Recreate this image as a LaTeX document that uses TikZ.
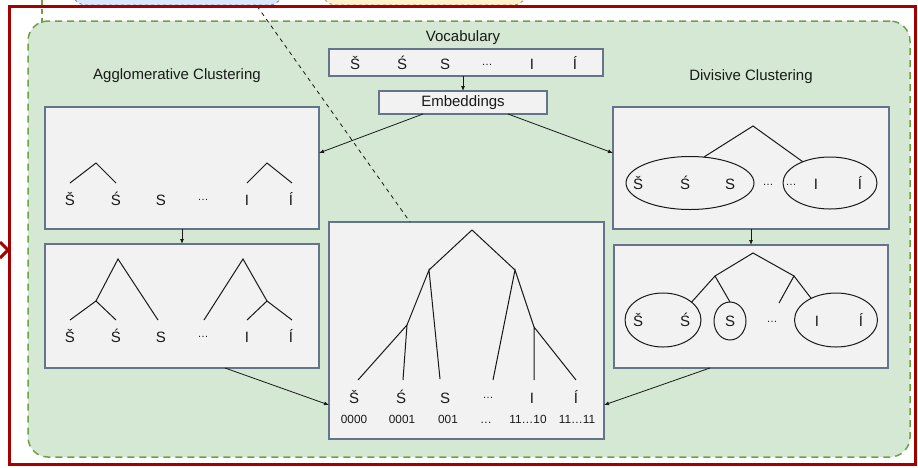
\documentclass[tikz,border=0pt]{standalone}
\usepackage{fontspec}
\setmainfont{Liberation Sans}
\usetikzlibrary{arrows.meta,shapes.geometric}

\definecolor{framered}{RGB}{165,0,0}
\definecolor{grpfill}{RGB}{213,232,212}
\definecolor{grpline}{RGB}{110,160,75}
\definecolor{boxfill}{RGB}{242,242,242}
\definecolor{boxline}{RGB}{100,116,138}
\definecolor{bluefill}{RGB}{218,232,252}
\definecolor{blueline}{RGB}{108,130,170}
\definecolor{yelfill}{RGB}{255,242,204}
\definecolor{yelline}{RGB}{150,140,110}
\definecolor{inkc}{RGB}{25,25,25}

% raised three dots used in the letter rows
\newcommand\middots{\raisebox{0.3em}{\fontsize{11}{11}\selectfont …}}

\begin{document}
\begin{tikzpicture}[x=1pt,y=-1pt,
  every node/.style={inner sep=0pt,outer sep=0pt,text=inkc},
  panel/.style={draw=boxline,fill=boxfill,line width=1.1pt,anchor=north west},
  lbl/.style={anchor=base,font=\fontsize{15}{18}\selectfont},
  code/.style={anchor=base,font=\fontsize{11.8}{14}\selectfont},
  title/.style={anchor=base,font=\fontsize{15}{18}\selectfont},
  branch/.style={draw=inkc,line width=1pt},
  group/.style={ellipse,draw=inkc,line width=1pt},
  arr/.style={draw=inkc,line width=0.8pt,-{Latex[length=5pt,width=4pt]}}]

\useasboundingbox (0,0) rectangle (918,467);

% shapes running off the top edge
\begin{scope}
  \clip (0,0) rectangle (918,467);
  \node[draw=blueline,fill=bluefill,dashed,rounded corners=14pt,line width=0.8pt,
        minimum width=211pt,minimum height=60pt] (upa) at (177.5,-25) {};
  \node[draw=yelline,fill=yelfill,dashed,rounded corners=14pt,line width=0.8pt,
        minimum width=205pt,minimum height=60pt] (upb) at (424.5,-25) {};
\end{scope}

% green container
\node[draw=grpline,fill=grpfill,dashed,dash pattern=on 7pt off 5pt,line width=1.5pt,
      rounded corners=20pt,minimum width=882pt,minimum height=436pt,anchor=north west]
      (grp) at (28,21) {};
\coordinate (gtop) at (42,0);
\coordinate (gend) at (42,25);
\draw[grpline,line width=1.5pt,dash pattern=on 5pt off 4pt] (gtop) -- (gend);

% titles
\node[title] (tvoc) at (463,41.7) {Vocabulary};
\node[title] (tagg) at (177,79.3) {Agglomerative Clustering};
\node[title] (tdiv) at (751,80) {Divisive Clustering};

% vocabulary and embeddings
\node[panel,minimum width=274pt,minimum height=27pt] (voc) at (329,49) {};
\foreach \x/\t/\n in {355/Š/v1,402/Ś/v2,445/S/v3,487/\middots/v4,532/I/v5,575/Í/v6}
  \node[lbl] (\n) at (\x,69.5) {\t};
\node[panel,minimum width=168pt,minimum height=23pt,font=\fontsize{15}{18}\selectfont]
      (emb) at (379,91) {Embeddings};

% panels
\node[panel,minimum width=274pt,minimum height=122pt] (ag1) at (45,107) {};
\node[panel,minimum width=274pt,minimum height=124pt] (ag2) at (45,244) {};
\node[panel,minimum width=276pt,minimum height=122pt] (dv1) at (613,107) {};
\node[panel,minimum width=274pt,minimum height=123pt] (dv2) at (614,245) {};
\node[panel,minimum width=275pt,minimum height=217pt] (ctr) at (329,222) {};

% agglomerative, step 1
\foreach \x/\t/\n in {70/Š/p1,116/Ś/p2,161/S/p3,203/\middots/p4,247/I/p5,291/Í/p6}
  \node[lbl] (\n) at (\x,205) {\t};
\coordinate (a1p) at (96,163);  \coordinate (a1a) at (70,183);  \coordinate (a1b) at (116,183);
\coordinate (a1q) at (267,163); \coordinate (a1c) at (247,183); \coordinate (a1d) at (292,183);
\draw[branch] (a1a) -- (a1p) -- (a1b);
\draw[branch] (a1c) -- (a1q) -- (a1d);

% agglomerative, step 2
\foreach \x/\t/\n in {70/Š/q1,116/Ś/q2,161/S/q3,203/\middots/q4,247/I/q5,291/Í/q6}
  \node[lbl] (\n) at (\x,342) {\t};
\coordinate (a2p) at (118,259); \coordinate (a2m) at (96,301);
\coordinate (a2q) at (243,259); \coordinate (a2n) at (267,301);
\coordinate (a2a) at (70,320);  \coordinate (a2b) at (116,320); \coordinate (a2c) at (158,320);
\coordinate (a2d) at (204,320); \coordinate (a2e) at (247,320); \coordinate (a2f) at (292,320);
\draw[branch] (a2m) -- (a2p) -- (a2c);
\draw[branch] (a2a) -- (a2m) -- (a2b);
\draw[branch] (a2d) -- (a2q) -- (a2n);
\draw[branch] (a2e) -- (a2n) -- (a2f);

% divisive, step 1
\node[group,minimum width=128pt,minimum height=53pt] (e11) at (690,183) {};
\node[group,minimum width=94pt,minimum height=52pt] (e12) at (830,183) {};
\foreach \x/\t/\n in {638/Š/r1,685/Ś/r2,730/S/r3,768/\middots/r4,791/\middots/r5,816/I/r6,860/Í/r7}
  \node[lbl] (\n) at (\x,189.5) {\t};
\coordinate (d1p) at (753,126);
\draw[branch] (e11.62) -- (d1p) -- (e12.142);

% divisive, step 2
\node[group,minimum width=76pt,minimum height=54pt] (e21) at (663,320) {};
\node[group,minimum width=32pt,minimum height=38pt] (e22) at (730,321) {};
\node[group,minimum width=83pt,minimum height=54pt] (e23) at (836,320) {};
\foreach \x/\t/\n in {638/Š/s1,685/Ś/s2,730/S/s3,772/\middots/s4,817/I/s5,861/Í/s6}
  \node[lbl] (\n) at (\x,326.5) {\t};
\coordinate (d2p) at (753,253); \coordinate (d2a) at (715,276);
\coordinate (d2b) at (794,276); \coordinate (d2x) at (779,303);
\draw[branch] (d2a) -- (d2p) -- (d2b);
\draw[branch] (e21.32) -- (d2a) -- (e22.north);
\draw[branch] (d2x) -- (d2b) -- (e23.139);

% resulting binary tree with codes
\foreach \x/\t/\n in {354/Š/t1,401/Ś/t2,445/S/t3,488/\middots/t4,532/I/t5,576/Í/t6}
  \node[lbl] (\n) at (\x,403) {\t};
\foreach \x/\t/\n in {354/0000/k1,402/0001/k2,448/001/k3,486/…/k4,528/11…10/k5,577/11…11/k6}
  \node[code] (\n) at (\x,423) {\t};
\coordinate (c0) at (472,230); \coordinate (c1) at (429,270); \coordinate (c2) at (515,270);
\coordinate (c3) at (407,325); \coordinate (c4) at (534,327);
\coordinate (ca) at (358,380); \coordinate (cb) at (403,380); \coordinate (cc) at (440,379);
\coordinate (cd) at (493,380); \coordinate (ce) at (534,380); \coordinate (cf) at (576,380);
\draw[branch] (c1) -- (c0) -- (c2);
\draw[branch] (c3) -- (c1) -- (cc);
\draw[branch] (ca) -- (c3) -- (cb);
\draw[branch] (cd) -- (c2) -- (c4);
\draw[branch] (ce) -- (c4) -- (cf);

% connectors
\draw[arr] (emb.north |- voc.south) -- (emb.north);
\draw[arr] ([xshift=-40pt]emb.south) -- ([yshift=15pt]ag1.east);
\draw[arr] ([xshift=45pt]emb.south) -- ([yshift=15pt]dv1.west);
\draw[arr] (ag1.south) -- (ag1.south |- ag2.north);
\draw[arr] (dv1.south) -- (dv1.south |- dv2.north);
\draw[arr] ([xshift=43pt]ag2.south) -- ([yshift=-74.5pt]ctr.west);
\draw[arr] ([xshift=-41pt]dv2.south) -- ([yshift=-74.5pt]ctr.east);
\coordinate (dstart) at (257,6);
\draw[inkc,line width=0.8pt,dash pattern=on 4pt off 4pt] (dstart) -- ([xshift=-56.5pt]ctr.north);

% outer frame and incoming arrowhead
\node[draw=framered,line width=3pt,minimum width=906pt,minimum height=458.5pt,anchor=north west]
      (frame) at (9,6) {};
\coordinate (ch1) at (0,242); \coordinate (ch2) at (8,250); \coordinate (ch3) at (0,258);
\draw[framered,line width=3pt] (ch1) -- (ch2) -- (ch3);
\end{tikzpicture}
\end{document}
